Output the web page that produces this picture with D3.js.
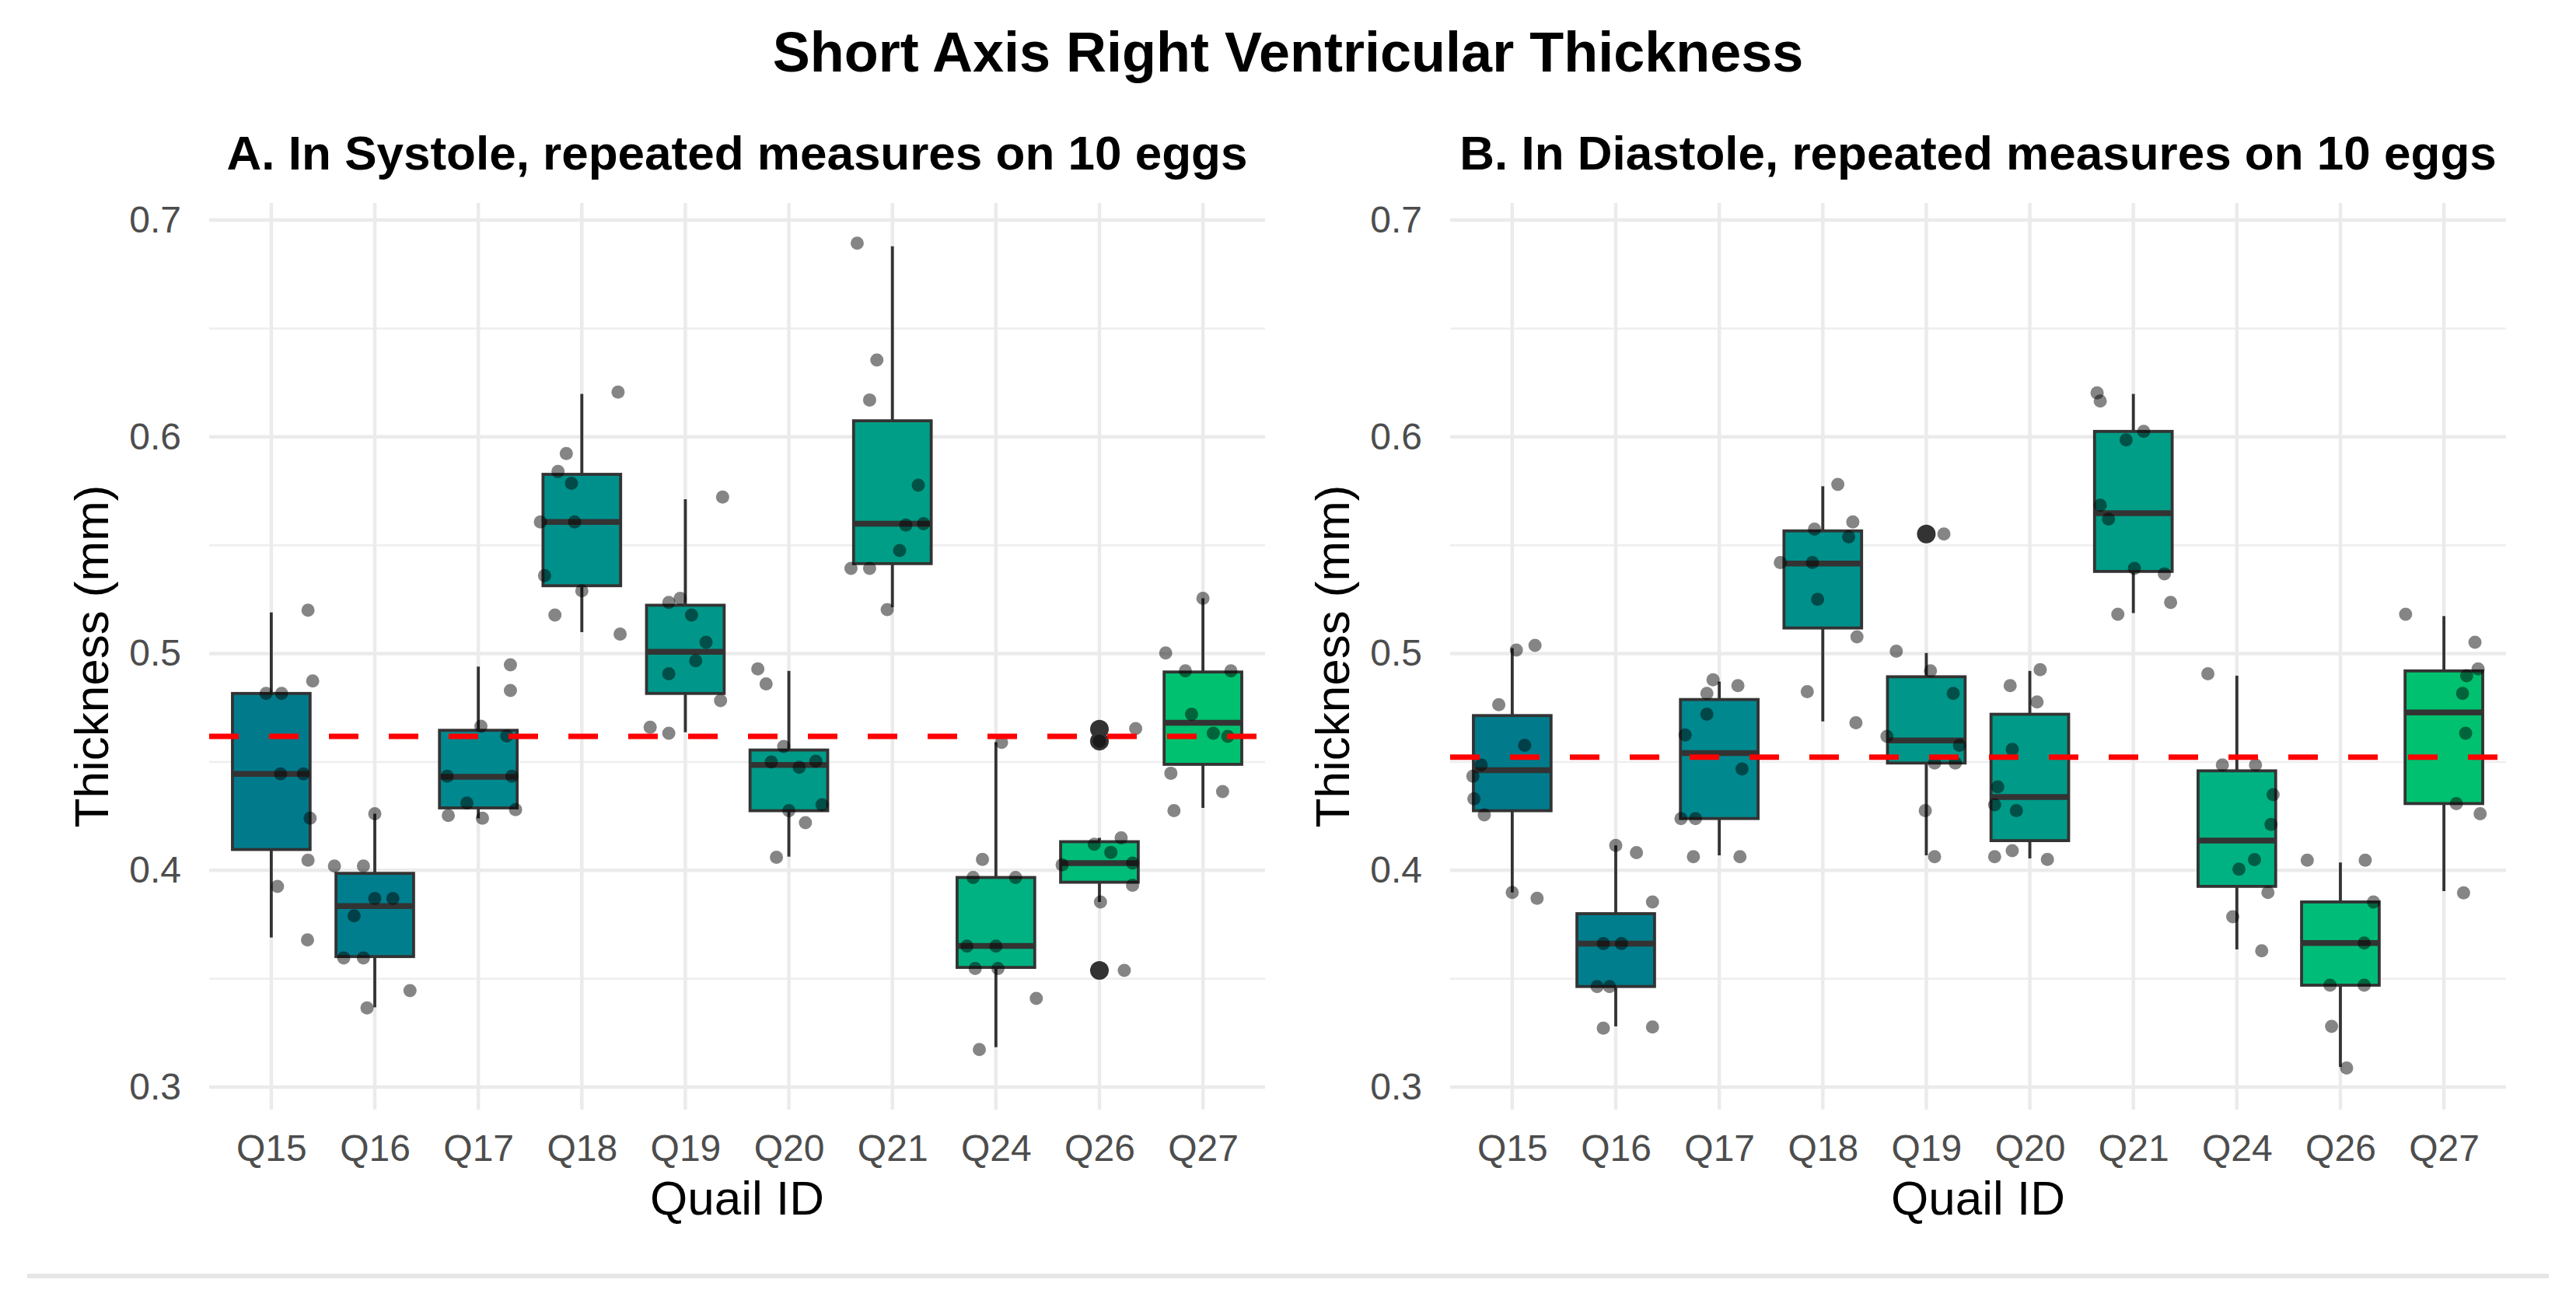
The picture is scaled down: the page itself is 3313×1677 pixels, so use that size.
<!DOCTYPE html>
<html>
<head>
<meta charset="utf-8">
<script src="https://cdn.jsdelivr.net/npm/d3@7"></script>
<style>
  html, body { margin: 0; padding: 0; background: #ffffff; }
  svg { display: block; font-family: "Liberation Sans", Arial, sans-serif; }
</style>
</head>
<body>
<script>
// ---------------- DATA ----------------
const categories = ["Q15","Q16","Q17","Q18","Q19","Q20","Q21","Q24","Q26","Q27"];
const fillColors = ["#017B8C","#017E8D","#00888F","#00908C","#00978A","#009A88","#009E87","#00B282","#00BC79","#00C16F"];
const yMajorTicks = [0.3, 0.4, 0.5, 0.6, 0.7];
const yMinorTicks = [0.35, 0.45, 0.55, 0.65];

// box statistics per category: [lower whisker, Q1, median, Q3, upper whisker]
const systoleStats = [
  [0.369, 0.4096, 0.4445, 0.4816, 0.519],
  [0.3368, 0.3602, 0.3835, 0.3986, 0.4261],
  [0.424, 0.4288, 0.4431, 0.4646, 0.494],
  [0.5099, 0.5313, 0.5607, 0.5827, 0.6198],
  [0.4637, 0.4816, 0.5008, 0.5223, 0.5712],
  [0.4063, 0.4275, 0.4486, 0.4555, 0.492],
  [0.5214, 0.5415, 0.5599, 0.6074, 0.6879],
  [0.3184, 0.3552, 0.3651, 0.3967, 0.4591],
  [0.3854, 0.3945, 0.4033, 0.4132, 0.415],
  [0.4288, 0.4489, 0.4681, 0.4915, 0.5255]
];
const systoleOutliers = [[], [], [], [], [], [], [], [], [0.4651, 0.4596, 0.3538], []];
const systoleValues = [
  [0.520, 0.4874, 0.4816, 0.4816, 0.4445, 0.4445, 0.424, 0.4047, 0.3926, 0.3679],
  [0.4261, 0.402, 0.402, 0.387, 0.387, 0.379, 0.3596, 0.3596, 0.3445, 0.3365],
  [0.4948, 0.483, 0.4665, 0.462, 0.4434, 0.4434, 0.431, 0.4253, 0.424, 0.428],
  [0.6206, 0.5923, 0.584, 0.5786, 0.5607, 0.5607, 0.536, 0.529, 0.5178, 0.509],
  [0.5722, 0.5236, 0.5255, 0.5178, 0.5052, 0.4967, 0.4907, 0.4783, 0.466, 0.4632],
  [0.4929, 0.486, 0.4571, 0.45, 0.4475, 0.4503, 0.4302, 0.4275, 0.422, 0.406],
  [0.6893, 0.6354, 0.617, 0.5777, 0.5593, 0.5599, 0.5475, 0.5393, 0.5393, 0.5203],
  [0.459, 0.405, 0.3967, 0.3967, 0.365, 0.365, 0.3547, 0.3547, 0.3409, 0.3173],
  [0.4654, 0.4596, 0.415, 0.4083, 0.4025, 0.4033, 0.3931, 0.3854, 0.3538, 0.412],
  [0.5255, 0.5003, 0.492, 0.492, 0.472, 0.4632, 0.4618, 0.4448, 0.4363, 0.4275]
];
// horizontal jitter of each point, in category-step units
const systoleJitter = [
  [0.355, 0.40, -0.05, 0.10, 0.09, 0.31, 0.375, 0.355, 0.06, 0.35],
  [0, -0.39, -0.11, 0, 0.175, -0.2, -0.3, -0.11, 0.34, -0.075],
  [0.31, 0.31, 0.025, 0.275, -0.3, 0.325, -0.11, -0.29, 0.04, 0.36],
  [0.35, -0.15, -0.23, -0.10, -0.40, -0.07, -0.36, 0, -0.26, 0.37],
  [0.36, -0.16, -0.05, 0.06, 0.2, 0.1, -0.16, 0.34, -0.34, -0.16],
  [-0.3, -0.22, -0.05, -0.17, 0.1, 0.26, 0.32, 0, 0.16, -0.12],
  [-0.34, -0.15, -0.22, 0.25, 0.13, 0.3, 0.07, -0.4, -0.22, -0.05],
  [0.055, -0.13, -0.22, 0.19, -0.28, 0, -0.2, 0.02, 0.39, -0.16],
  [0.35, 0, 0.21, 0.11, -0.36, 0.32, 0.32, 0.01, 0.24, -0.05],
  [0, -0.36, -0.17, 0.27, -0.11, 0.1, 0.24, -0.31, 0.19, -0.28]
];
const systoleMean = 0.4618;

const diastoleStats = [
  [0.3898, 0.4275, 0.4462, 0.4714, 0.5025],
  [0.328, 0.3464, 0.3662, 0.38, 0.4115],
  [0.4069, 0.4239, 0.4541, 0.4788, 0.4871],
  [0.4687, 0.5118, 0.5415, 0.5566, 0.5772],
  [0.4069, 0.4495, 0.4599, 0.4893, 0.5003],
  [0.4055, 0.4137, 0.4338, 0.472, 0.492],
  [0.5187, 0.5379, 0.5648, 0.6025, 0.6198],
  [0.3635, 0.3926, 0.4137, 0.4459, 0.4898],
  [0.3093, 0.347, 0.3665, 0.3854, 0.4036],
  [0.3904, 0.4308, 0.4728, 0.492, 0.5173]
];
const diastoleOutliers = [[], [], [], [], [0.5552], [], [], [], [], []];
const diastoleValues = [
  [0.5016, 0.5038, 0.4764, 0.4577, 0.4486, 0.4434, 0.433, 0.4256, 0.3898, 0.3871],
  [0.4115, 0.4082, 0.3854, 0.3662, 0.3662, 0.3464, 0.3464, 0.3272, 0.3277],
  [0.4879, 0.4852, 0.4816, 0.472, 0.4624, 0.4467, 0.4239, 0.4239, 0.4063, 0.4063],
  [0.578, 0.5574, 0.5607, 0.5538, 0.542, 0.542, 0.525, 0.5077, 0.4824, 0.4681],
  [0.5552, 0.5011, 0.492, 0.4816, 0.4618, 0.4577, 0.4495, 0.4495, 0.4275, 0.4063],
  [0.4926, 0.4852, 0.4777, 0.4558, 0.4385, 0.4302, 0.4275, 0.4063, 0.4091, 0.405],
  [0.6203, 0.6165, 0.6025, 0.5986, 0.5684, 0.5621, 0.5393, 0.5368, 0.5181, 0.5236],
  [0.4907, 0.4486, 0.4486, 0.4349, 0.4212, 0.4049, 0.4005, 0.3898, 0.3786, 0.3629],
  [0.4047, 0.4047, 0.3854, 0.3665, 0.347, 0.347, 0.328, 0.3088],
  [0.5181, 0.5052, 0.4929, 0.4898, 0.4816, 0.4632, 0.4308, 0.4261, 0.3896]
];
const diastoleJitter = [
  [0.04, 0.22, -0.13, 0.12, -0.3, -0.38, -0.37, -0.27, 0, 0.24],
  [0, 0.2, 0.355, -0.12, 0.055, -0.18, -0.06, -0.12, 0.355],
  [-0.06, 0.18, -0.12, -0.12, -0.33, 0.22, -0.37, -0.23, -0.25, 0.2],
  [0.145, -0.08, 0.29, 0.25, -0.41, -0.1, -0.05, 0.33, -0.15, 0.32],
  [0.17, -0.29, 0.04, 0.26, -0.38, 0.32, 0.08, 0.28, -0.01, 0.08],
  [0.1, -0.19, 0.07, -0.17, -0.31, -0.34, -0.13, -0.34, -0.17, 0.17],
  [-0.35, -0.32, 0.1, -0.07, -0.32, -0.24, 0.01, 0.3, -0.15, 0.36],
  [-0.28, -0.14, 0.18, 0.35, 0.33, 0.17, 0.02, 0.3, -0.04, 0.24],
  [-0.32, 0.24, 0.32, 0.23, -0.1, 0.23, -0.085, 0.06],
  [-0.37, 0.3, 0.33, 0.22, 0.18, 0.21, 0.12, 0.35, 0.19]
];
const diastoleMean = 0.4522;

const yDomain = [0.2896, 0.7079];

// ---------------- DRAW ----------------
const W = 3313, H = 1677;
const svg = d3.select("body").append("svg").attr("width", W).attr("height", H);
svg.append("rect").attr("width", W).attr("height", H).attr("fill", "#ffffff");

// frame shadow line at bottom
svg.append("line").attr("x1", 35).attr("x2", 3278).attr("y1", 1641).attr("y2", 1641)
  .attr("stroke", "#E6E6E6").attr("stroke-width", 6);

svg.append("text").attr("x", W / 2).attr("y", 92).attr("text-anchor", "middle")
  .attr("font-size", 72).attr("font-weight", "bold").attr("fill", "#000")
  .text("Short Axis Right Ventricular Thickness");

const panelTop = 261, panelBottom = 1427, panelWidth = 1358;

function drawPanel(left, subtitle, stats, outliers, values, jitter, meanVal) {
  const right = left + panelWidth;
  const g = svg.append("g");
  const x = d3.scalePoint().domain(categories).range([left, right]).padding(0.6);
  const y = d3.scaleLinear().domain(yDomain).range([panelBottom, panelTop]);
  const step = x.step();
  const bw = step * 0.75;

  // grid
  g.selectAll(".minor").data(yMinorTicks).join("line")
    .attr("x1", left).attr("x2", right).attr("y1", d => y(d)).attr("y2", d => y(d))
    .attr("stroke", "#EEEEEE").attr("stroke-width", 2.5);
  g.selectAll(".major").data(yMajorTicks).join("line")
    .attr("x1", left).attr("x2", right).attr("y1", d => y(d)).attr("y2", d => y(d))
    .attr("stroke", "#EBEBEB").attr("stroke-width", 4.5);
  g.selectAll(".vgrid").data(categories).join("line")
    .attr("x1", d => x(d)).attr("x2", d => x(d)).attr("y1", panelTop).attr("y2", panelBottom)
    .attr("stroke", "#EBEBEB").attr("stroke-width", 4.5);

  // boxes
  categories.forEach((c, i) => {
    const s = stats[i];
    const cx = x(c);
    g.append("line").attr("x1", cx).attr("x2", cx).attr("y1", y(s[4])).attr("y2", y(s[3]))
      .attr("stroke", "#333333").attr("stroke-width", 3.8);
    g.append("line").attr("x1", cx).attr("x2", cx).attr("y1", y(s[1])).attr("y2", y(s[0]))
      .attr("stroke", "#333333").attr("stroke-width", 3.8);
    g.append("rect").attr("x", cx - bw / 2).attr("width", bw)
      .attr("y", y(s[3])).attr("height", y(s[1]) - y(s[3]))
      .attr("fill", fillColors[i]).attr("stroke", "#333333").attr("stroke-width", 3.8);
    g.append("line").attr("x1", cx - bw / 2).attr("x2", cx + bw / 2).attr("y1", y(s[2])).attr("y2", y(s[2]))
      .attr("stroke", "#333333").attr("stroke-width", 7.5);
    g.selectAll(null).data(outliers[i]).join("circle")
      .attr("cx", cx).attr("cy", d => y(d)).attr("r", 12).attr("fill", "#333333");
  });

  // jittered points
  categories.forEach((c, i) => {
    const pts = values[i].map((v, k) => ({ v: v, j: jitter[i][k] }));
    g.selectAll(null).data(pts).join("circle")
      .attr("cx", d => x(c) + d.j * step).attr("cy", d => y(d.v)).attr("r", 8.5)
      .attr("fill", "#000000").attr("fill-opacity", 0.48);
  });

  // mean line
  g.append("line").attr("x1", left).attr("x2", right).attr("y1", y(meanVal)).attr("y2", y(meanVal))
    .attr("stroke", "#FF0000").attr("stroke-width", 7).attr("stroke-dasharray", "38 39");

  // axes
  const ya = g.append("g").attr("transform", `translate(${left},0)`)
    .call(d3.axisLeft(y).tickValues(yMajorTicks).tickFormat(d3.format(".1f")).tickSize(0).tickPadding(36));
  ya.select(".domain").remove();
  ya.selectAll("text").attr("font-size", 48).attr("fill", "#4D4D4D")
    .attr("font-family", "'Liberation Sans', Arial, sans-serif");

  const xa = g.append("g").attr("transform", `translate(0,${panelBottom})`)
    .call(d3.axisBottom(x).tickSize(0).tickPadding(32));
  xa.select(".domain").remove();
  xa.selectAll("text").attr("font-size", 48).attr("fill", "#4D4D4D")
    .attr("font-family", "'Liberation Sans', Arial, sans-serif");

  // titles
  const mid = (left + right) / 2;
  g.append("text").attr("x", mid).attr("y", 218).attr("text-anchor", "middle")
    .attr("font-size", 62).attr("font-weight", "bold").attr("fill", "#000").text(subtitle);
  g.append("text").attr("x", mid).attr("y", 1562).attr("text-anchor", "middle")
    .attr("font-size", 62).attr("fill", "#000").text("Quail ID");
  g.append("text").attr("transform", `translate(${left - 130},${(panelTop + panelBottom) / 2}) rotate(-90)`)
    .attr("text-anchor", "middle").attr("font-size", 62).attr("fill", "#000").text("Thickness (mm)");
}

drawPanel(269, "A. In Systole, repeated measures on 10 eggs",
  systoleStats, systoleOutliers, systoleValues, systoleJitter, systoleMean);
drawPanel(1865, "B. In Diastole, repeated measures on 10 eggs",
  diastoleStats, diastoleOutliers, diastoleValues, diastoleJitter, diastoleMean);
</script>
</body>
</html>
